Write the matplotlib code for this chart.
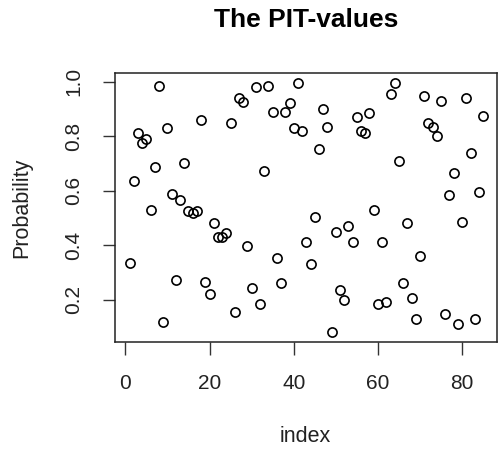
import matplotlib
matplotlib.use("Agg")
import matplotlib.pyplot as plt
import numpy as np

plt.rcParams['font.family'] = ['Liberation Sans', 'DejaVu Sans']

# PIT values
pit = [0.335, 0.636, 0.81, 0.776, 0.79, 0.53, 0.685, 0.984, 0.117, 0.83,
       0.586, 0.273, 0.566, 0.70, 0.525, 0.518, 0.527, 0.86, 0.266, 0.222,
       0.48, 0.43, 0.43, 0.445, 0.85, 0.153, 0.94, 0.925, 0.397, 0.243,
       0.98, 0.185, 0.672, 0.984, 0.89, 0.354, 0.26, 0.89, 0.923, 0.83,
       0.994, 0.82, 0.41, 0.33, 0.503, 0.753, 0.90, 0.835, 0.08, 0.45,
       0.237, 0.2, 0.47, 0.41, 0.87, 0.818, 0.81, 0.886, 0.53, 0.185,
       0.41, 0.19, 0.953, 0.994, 0.71, 0.26, 0.48, 0.205, 0.13, 0.36,
       0.948, 0.85, 0.833, 0.8, 0.93, 0.148, 0.585, 0.666, 0.11, 0.485,
       0.94, 0.74, 0.13, 0.596, 0.874]
idx = np.arange(1, len(pit) + 1)
xticks = [0, 20, 40, 60, 80]
yticks = [0.2, 0.4, 0.6, 0.8, 1.0]

fig = plt.figure(figsize=(5, 4.54), dpi=100)
ax = fig.add_axes([0.2308, 0.246, 0.9946 - 0.2308, 0.8385 - 0.246])
ax.plot(idx, pit, linestyle='none', marker='o', markersize=6.6,
        markerfacecolor='none', markeredgecolor='black', markeredgewidth=1.2)
ax.margins(0.04)

ax.set_xticks(xticks)
ax.set_yticks(yticks)
ax.set_yticklabels([str(v) for v in yticks], rotation=90, va='center')
ax.tick_params(axis='both', labelsize=15, length=9, width=1, pad=14,
               color='#333333', labelcolor='#222222')
for s in ax.spines.values():
    s.set_linewidth(1.1)
    s.set_color('#222222')

ax.set_title("The PIT-values", fontsize=19, fontweight='bold', pad=33)
fig.text(0.61, 1 - 437 / 454, "index", fontsize=15.5, ha='center', va='center', color='#222222')
fig.text(22 / 500, (0.8385 + 0.246) / 2, "Probability", fontsize=15.5,
         rotation=90, ha='center', va='center', color='#222222')

fig.savefig("out.png", dpi=100)
